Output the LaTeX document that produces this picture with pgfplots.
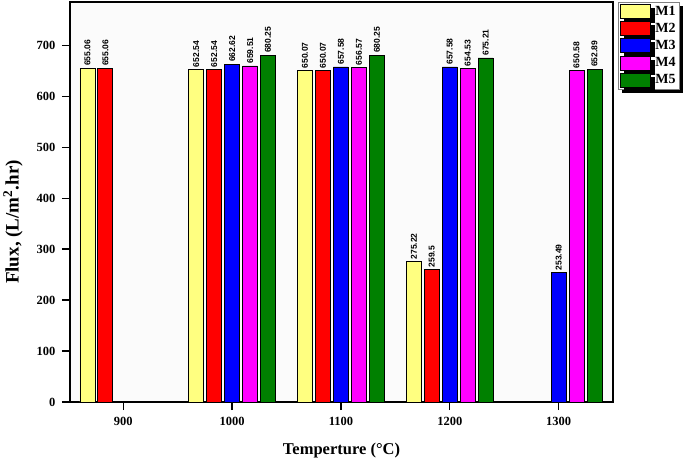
\documentclass[border=0pt]{standalone}
\usepackage{fontspec}
\setmainfont{Liberation Serif}
\setsansfont{Liberation Sans}
\usepackage{pgfplots}
\pgfplotsset{compat=1.18}
\usetikzlibrary{shadows}
\definecolor{cM1}{RGB}{255,255,128}
\definecolor{cM2}{RGB}{255,0,0}
\definecolor{cM3}{RGB}{0,0,255}
\definecolor{cM4}{RGB}{255,0,255}
\definecolor{cM5}{RGB}{0,128,0}
\begin{document}
\begin{tikzpicture}
\begin{axis}[
 name=ax,
 scale only axis, width=543pt, height=400pt,
 xmin=851, xmax=1350, ymin=0, ymax=785,
 xtick={900,1000,1100,1200,1300}, ytick={0,100,...,700},
 tick align=outside, tick pos=left, major tick length=8pt,
 major tick style={line width=1.3pt, black},
 /pgf/number format/assume math mode=true,
 /pgf/number format/1000 sep={},
 tick label style={font=\bfseries\fontsize{12.5}{13}\selectfont},
 xticklabel style={yshift=-4pt},
 yticklabel style={xshift=-3pt},
 xlabel={Temperture (°C)}, ylabel={Flux, (L/m\textsuperscript{2}.hr)},
 xlabel style={font=\bfseries\fontsize{16.5}{18}\selectfont, at={(axis description cs:0.5,-0.1225)}, anchor=center},
 ylabel style={font=\bfseries\fontsize{19}{20}\selectfont, at={(axis description cs:-0.105,0.45)}, anchor=center},
 axis line style={line width=1.5pt},
 axis background/.style={fill=gray!3},
 mybar/.style={ybar, bar width=13.8, draw=black, line width=0.8pt,
   legend image code/.code={\draw[##1, line width=0.6pt] (0pt,-7pt) rectangle (30pt,7pt);},
   nodes near coords,
   every node near coord/.append style={xshift=#1pt, rotate=90, anchor=west, black, inner sep=2pt,
     font=\sffamily\bfseries\fontsize{8.5}{9}\selectfont}},
 legend style={at={(1.009,1)}, anchor=north west, draw=gray, line width=0.6pt,
   fill=white, font=\bfseries\fontsize{14}{15}\selectfont,
   drop shadow={shadow xshift=4pt, shadow yshift=-4pt, fill=black, opacity=1},
   row sep=2.5pt, column sep=3pt, inner sep=1.5pt},
 legend cell align=left,
]
\addplot[mybar=-35.9, bar shift=-33, fill=cM1] coordinates {(900,655.06) (1000,652.54) (1100,650.07) (1200,275.22)};
\addlegendentry{M1}
\addplot[mybar=-17.96, bar shift=-16.5, fill=cM2] coordinates {(900,655.06) (1000,652.54) (1100,650.07) (1200,259.5)};
\addlegendentry{M2}
\addplot[mybar=0, bar shift=0, fill=cM3] coordinates {(1000,662.62) (1100,657.58) (1200,657.58) (1300,253.49)};
\addlegendentry{M3}
\addplot[mybar=17.96, bar shift=16.5, fill=cM4] coordinates {(1000,659.51) (1100,656.57) (1200,654.53) (1300,650.58)};
\addlegendentry{M4}
\addplot[mybar=35.9, bar shift=33, fill=cM5] coordinates {(1000,680.25) (1100,680.25) (1200,675.21) (1300,652.89)};
\addlegendentry{M5}
\end{axis}
\pgfresetboundingbox
\path[use as bounding box] ([xshift=-70pt,yshift=-58pt]ax.south west) rectangle ([xshift=72pt,yshift=2pt]ax.north east);
\end{tikzpicture}
\end{document}
